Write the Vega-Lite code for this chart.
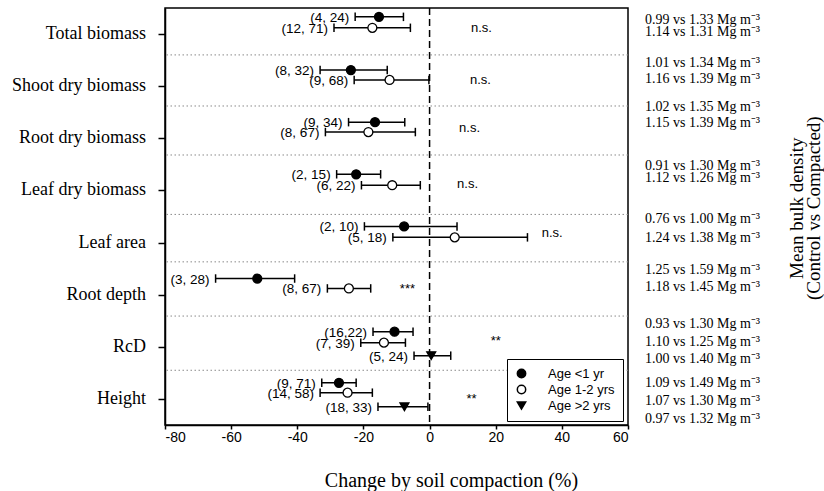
{
  "$schema": "https://vega.github.io/schema/vega-lite/v6.json",
  "width": 463,
  "height": 417,
  "autosize": "none",
  "padding": {"left": 165, "top": 8, "right": 196, "bottom": 66},
  "background": "white",
  "config": {
    "view": {"stroke": "black", "strokeWidth": 1.5},
    "axis": {"grid": false, "domainColor": "black", "domainWidth": 1.5, "tickColor": "black", "tickWidth": 1.5, "labelColor": "black", "titleColor": "black"},
    "axisX": {"tickSize": 4, "labelFont": "Liberation Sans", "labelFontSize": 14, "labelPadding": 1, "titleFont": "Liberation Serif", "titleFontSize": 20, "titleFontWeight": "normal", "titleX": 286, "titleY": 55, "titleBaseline": "middle", "titleAlign": "center"},
    "axisY": {"tickSize": 7, "labels": false}
  },
  "datasets": {
    "est": [
      {"cat": "Total biomass", "age": "Age <1 yr", "row": -0.33, "est": -15.3, "lo": -22.5, "hi": -7.9, "n": "(4, 24)"},
      {"cat": "Total biomass", "age": "Age 1-2 yrs", "row": -0.12, "est": -17.3, "lo": -28.9, "hi": -5.8, "n": "(12, 71)"},
      {"cat": "Shoot dry biomass", "age": "Age <1 yr", "row": 0.69, "est": -23.8, "lo": -33.1, "hi": -12.8, "n": "(8, 32)"},
      {"cat": "Shoot dry biomass", "age": "Age 1-2 yrs", "row": 0.88, "est": -12.1, "lo": -22.8, "hi": -0.2, "n": "(9, 68)"},
      {"cat": "Root dry biomass", "age": "Age <1 yr", "row": 1.69, "est": -16.5, "lo": -24.5, "hi": -7.5, "n": "(9, 34)"},
      {"cat": "Root dry biomass", "age": "Age 1-2 yrs", "row": 1.88, "est": -18.5, "lo": -31.5, "hi": -4.3, "n": "(8, 67)"},
      {"cat": "Leaf dry biomass", "age": "Age <1 yr", "row": 2.69, "est": -22.2, "lo": -28.1, "hi": -14.8, "n": "(2, 15)"},
      {"cat": "Leaf dry biomass", "age": "Age 1-2 yrs", "row": 2.9, "est": -11.3, "lo": -20.6, "hi": -2.8, "n": "(6, 22)"},
      {"cat": "Leaf area", "age": "Age <1 yr", "row": 3.69, "est": -7.7, "lo": -19.7, "hi": 8.3, "n": "(2, 10)"},
      {"cat": "Leaf area", "age": "Age 1-2 yrs", "row": 3.9, "est": 7.6, "lo": -11.1, "hi": 29.6, "n": "(5, 18)"},
      {"cat": "Root depth", "age": "Age <1 yr", "row": 4.69, "est": -52.1, "lo": -64.7, "hi": -40.8, "n": "(3, 28)"},
      {"cat": "Root depth", "age": "Age 1-2 yrs", "row": 4.88, "est": -24.4, "lo": -30.9, "hi": -17.8, "n": "(8, 67)"},
      {"cat": "RcD", "age": "Age <1 yr", "row": 5.71, "est": -10.6, "lo": -17.1, "hi": -5.0, "n": "(16,22)"},
      {"cat": "RcD", "age": "Age 1-2 yrs", "row": 5.92, "est": -13.8, "lo": -20.8, "hi": -7.3, "n": "(7, 39)"},
      {"cat": "RcD", "age": "Age >2 yrs", "row": 6.17, "est": 0.5, "lo": -4.7, "hi": 6.4, "n": "(5, 24)"},
      {"cat": "Height", "age": "Age <1 yr", "row": 6.69, "est": -27.4, "lo": -32.6, "hi": -22.2, "n": "(9, 71)"},
      {"cat": "Height", "age": "Age 1-2 yrs", "row": 6.88, "est": -24.8, "lo": -33.1, "hi": -17.3, "n": "(14, 58)"},
      {"cat": "Height", "age": "Age >2 yrs", "row": 7.15, "est": -7.6, "lo": -15.6, "hi": -0.5, "n": "(18, 33)"}
    ],
    "cats": [
      {"cat": "Total  biomass", "row": 0},
      {"cat": "Shoot dry biomass", "row": 1},
      {"cat": "Root dry biomass", "row": 2},
      {"cat": "Leaf dry biomass", "row": 3},
      {"cat": "Leaf area", "row": 4},
      {"cat": "Root depth", "row": 5},
      {"cat": "RcD", "row": 6},
      {"cat": "Height", "row": 7}
    ],
    "seps": [
      {"row": 0.4}, {"row": 1.38}, {"row": 2.32}, {"row": 3.46}, {"row": 4.37}, {"row": 5.41}, {"row": 6.45}
    ],
    "sig": [
      {"row": -0.12, "x": 15.7, "txt": "n.s."},
      {"row": 0.88, "x": 15.4, "txt": "n.s."},
      {"row": 1.8, "x": 12.1, "txt": "n.s."},
      {"row": 2.87, "x": 11.5, "txt": "n.s."},
      {"row": 3.82, "x": 37.1, "txt": "n.s."},
      {"row": 4.89, "x": -6.7, "txt": "***"},
      {"row": 5.89, "x": 20.0, "txt": "**"},
      {"row": 7.0, "x": 12.7, "txt": "**"}
    ],
    "bd": [
      {"row": -0.27, "txt": "0.99 vs 1.33 Mg m⁻³"},
      {"row": -0.04, "txt": "1.14 vs 1.31 Mg m⁻³"},
      {"row": 0.56, "txt": "1.01 vs 1.34 Mg m⁻³"},
      {"row": 0.86, "txt": "1.16 vs 1.39 Mg m⁻³"},
      {"row": 1.4, "txt": "1.02 vs 1.35 Mg m⁻³"},
      {"row": 1.71, "txt": "1.15 vs 1.39 Mg m⁻³"},
      {"row": 2.53, "txt": "0.91 vs 1.30 Mg m⁻³"},
      {"row": 2.76, "txt": "1.12 vs 1.26 Mg m⁻³"},
      {"row": 3.55, "txt": "0.76 vs 1.00 Mg m⁻³"},
      {"row": 3.91, "txt": "1.24 vs 1.38 Mg m⁻³"},
      {"row": 4.53, "txt": "1.25 vs 1.59 Mg m⁻³"},
      {"row": 4.85, "txt": "1.18 vs 1.45 Mg m⁻³"},
      {"row": 5.56, "txt": "0.93 vs 1.30 Mg m⁻³"},
      {"row": 5.91, "txt": "1.10 vs 1.25 Mg m⁻³"},
      {"row": 6.24, "txt": "1.00 vs 1.40 Mg m⁻³"},
      {"row": 6.7, "txt": "1.09 vs 1.49 Mg m⁻³"},
      {"row": 7.04, "txt": "1.07 vs 1.30 Mg m⁻³"},
      {"row": 7.39, "txt": "0.97 vs 1.32 Mg m⁻³"}
    ],
    "ttl": [
      {"row": 3.34, "t": ["Mean bulk density", "(Control vs Compacted)"]}
    ]
  },
  "layer": [
    {
      "data": {"name": "seps"},
      "mark": {"type": "rule", "color": "#8a8a8a", "strokeWidth": 1, "strokeDash": [1.5, 2.5]},
      "encoding": {
        "y": {
          "field": "row", "type": "quantitative",
          "scale": {"domain": [-0.5, 7.5], "reverse": true, "nice": false, "zero": false},
          "axis": {"values": [0, 1, 2, 3, 4, 5, 6, 7], "title": null}
        }
      }
    },
    {
      "data": {"values": [{"v": 0}]},
      "mark": {"type": "rule", "color": "black", "strokeWidth": 1.5, "strokeDash": [7, 4]},
      "encoding": {
        "x": {
          "field": "v", "type": "quantitative",
          "scale": {"domain": [-80, 60], "nice": false, "zero": false},
          "axis": {"values": [-80, -60, -40, -20, 0, 20, 40, 60], "labelExpr": "toString(datum.value)", "title": "Change by soil compaction (%)"}
        }
      }
    },
    {
      "data": {"name": "est"},
      "mark": {"type": "rule", "color": "black", "strokeWidth": 1.5},
      "encoding": {
        "x": {"field": "lo", "type": "quantitative", "scale": {"domain": [-80, 60], "nice": false, "zero": false}},
        "x2": {"field": "hi"},
        "y": {"field": "row", "type": "quantitative", "scale": {"domain": [-0.5, 7.5], "reverse": true, "nice": false, "zero": false}}
      }
    },
    {
      "data": {"name": "est"},
      "mark": {"type": "point", "shape": "M0,-1L0,1", "size": 72, "stroke": "black", "strokeWidth": 1.5, "filled": false, "opacity": 1},
      "encoding": {
        "x": {"field": "lo", "type": "quantitative", "scale": {"domain": [-80, 60], "nice": false, "zero": false}},
        "y": {"field": "row", "type": "quantitative", "scale": {"domain": [-0.5, 7.5], "reverse": true, "nice": false, "zero": false}}
      }
    },
    {
      "data": {"name": "est"},
      "mark": {"type": "point", "shape": "M0,-1L0,1", "size": 72, "stroke": "black", "strokeWidth": 1.5, "filled": false, "opacity": 1},
      "encoding": {
        "x": {"field": "hi", "type": "quantitative", "scale": {"domain": [-80, 60], "nice": false, "zero": false}},
        "y": {"field": "row", "type": "quantitative", "scale": {"domain": [-0.5, 7.5], "reverse": true, "nice": false, "zero": false}}
      }
    },
    {
      "data": {"name": "est"},
      "mark": {"type": "point", "filled": true, "size": 80, "stroke": "black", "strokeWidth": 1.3, "opacity": 1},
      "encoding": {
        "x": {"field": "est", "type": "quantitative", "scale": {"domain": [-80, 60], "nice": false, "zero": false}},
        "y": {"field": "row", "type": "quantitative", "scale": {"domain": [-0.5, 7.5], "reverse": true, "nice": false, "zero": false}},
        "shape": {
          "field": "age", "type": "nominal",
          "scale": {"domain": ["Age <1 yr", "Age 1-2 yrs", "Age >2 yrs"], "range": ["circle", "circle", "triangle-down"]},
          "legend": {
            "orient": "none", "legendX": 342, "legendY": 351, "title": null,
            "strokeColor": "black", "fillColor": "white", "padding": 8,
            "labelFont": "Liberation Sans", "labelFontSize": 13, "labelColor": "black", "labelOffset": 20,
            "symbolSize": 70, "rowPadding": 1,
            "encode": {"symbols": {"update": {"stroke": {"value": "black"}, "strokeWidth": {"value": 1.2}}}}
          }
        },
        "fill": {
          "field": "age", "type": "nominal",
          "scale": {"domain": ["Age <1 yr", "Age 1-2 yrs", "Age >2 yrs"], "range": ["black", "white", "black"]},
          "legend": {
            "orient": "none", "legendX": 342, "legendY": 351, "title": null,
            "strokeColor": "black", "fillColor": "white", "padding": 8,
            "labelFont": "Liberation Sans", "labelFontSize": 13, "labelColor": "black", "labelOffset": 20,
            "symbolSize": 70, "rowPadding": 1,
            "encode": {"symbols": {"update": {"stroke": {"value": "black"}, "strokeWidth": {"value": 1.2}}}}
          }
        }
      }
    },
    {
      "data": {"name": "est"},
      "mark": {"type": "text", "align": "right", "baseline": "middle", "dx": -6, "dy": 1, "font": "Liberation Sans", "fontSize": 13.5, "color": "black"},
      "encoding": {
        "x": {"field": "lo", "type": "quantitative", "scale": {"domain": [-80, 60], "nice": false, "zero": false}},
        "y": {"field": "row", "type": "quantitative", "scale": {"domain": [-0.5, 7.5], "reverse": true, "nice": false, "zero": false}},
        "text": {"field": "n"}
      }
    },
    {
      "data": {"name": "cats"},
      "mark": {"type": "text", "align": "right", "baseline": "middle", "dx": -19, "font": "Liberation Serif", "fontSize": 18, "color": "black"},
      "encoding": {
        "x": {"datum": -80, "type": "quantitative", "scale": {"domain": [-80, 60], "nice": false, "zero": false}},
        "y": {"field": "row", "type": "quantitative", "scale": {"domain": [-0.5, 7.5], "reverse": true, "nice": false, "zero": false}},
        "text": {"field": "cat"}
      }
    },
    {
      "data": {"name": "sig"},
      "mark": {"type": "text", "align": "center", "baseline": "middle", "font": "Liberation Sans", "fontSize": 13, "color": "black"},
      "encoding": {
        "x": {"field": "x", "type": "quantitative", "scale": {"domain": [-80, 60], "nice": false, "zero": false}},
        "y": {"field": "row", "type": "quantitative", "scale": {"domain": [-0.5, 7.5], "reverse": true, "nice": false, "zero": false}},
        "text": {"field": "txt"}
      }
    },
    {
      "data": {"name": "bd"},
      "mark": {"type": "text", "align": "left", "baseline": "middle", "dx": 17, "font": "Liberation Serif", "fontSize": 14, "color": "black"},
      "encoding": {
        "x": {"datum": 60, "type": "quantitative", "scale": {"domain": [-80, 60], "nice": false, "zero": false}},
        "y": {"field": "row", "type": "quantitative", "scale": {"domain": [-0.5, 7.5], "reverse": true, "nice": false, "zero": false}},
        "text": {"field": "txt"}
      }
    },
    {
      "data": {"name": "ttl"},
      "mark": {"type": "text", "align": "center", "baseline": "middle", "angle": 270, "dy": 169, "font": "Liberation Serif", "fontSize": 19, "lineHeight": 17, "color": "black"},
      "encoding": {
        "x": {"datum": 60, "type": "quantitative", "scale": {"domain": [-80, 60], "nice": false, "zero": false}},
        "y": {"field": "row", "type": "quantitative", "scale": {"domain": [-0.5, 7.5], "reverse": true, "nice": false, "zero": false}},
        "text": {"field": "t"}
      }
    }
  ]
}
